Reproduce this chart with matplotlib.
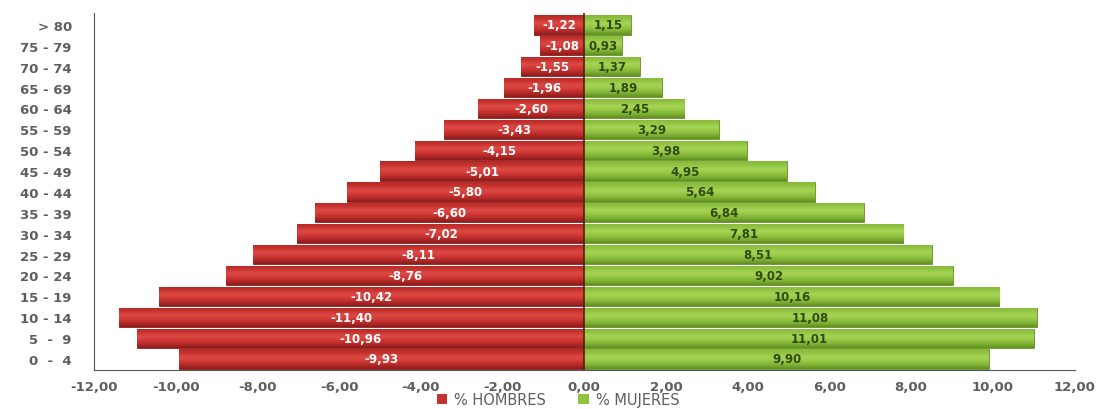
import matplotlib
matplotlib.use("Agg")
import matplotlib.pyplot as plt
from matplotlib.patches import Patch
from matplotlib.colors import LinearSegmentedColormap
import numpy as np

categories = ["> 80", "75 - 79", "70 - 74", "65 - 69", "60 - 64", "55 - 59", "50 - 54",
              "45 - 49", "40 - 44", "35 - 39", "30 - 34", "25 - 29", "20 - 24",
              "15 - 19", "10 - 14", "5  -  9", "0  -  4"]
hombres = [-1.22, -1.08, -1.55, -1.96, -2.60, -3.43, -4.15, -5.01, -5.80, -6.60,
           -7.02, -8.11, -8.76, -10.42, -11.40, -10.96, -9.93]
mujeres = [1.15, 0.93, 1.37, 1.89, 2.45, 3.29, 3.98, 4.95, 5.64, 6.84,
           7.81, 8.51, 9.02, 10.16, 11.08, 11.01, 9.90]
xticks = [-12, -10, -8, -6, -4, -2, 0, 2, 4, 6, 8, 10, 12]

def fmt(v):
    return f"{v:.2f}".replace(".", ",")

red = "#c8312f"
green = "#8fc23e"
grey = "#5e5e5e"

red_cmap = LinearSegmentedColormap.from_list(
    "r", ["#8a1c1a", "#b52a28", "#d13a37", "#dc4a46", "#c9332f", "#b02926"])
green_cmap = LinearSegmentedColormap.from_list(
    "g", ["#5f8f22", "#7fb235", "#96c845", "#a6d456", "#92c443", "#85b83a"])

fig = plt.figure(figsize=(11.01, 4.10), dpi=100)
ax = fig.add_axes([0.0854, 0.095, 0.8906, 0.871])

n = len(categories)
ypos = [n - 1 - i for i in range(n)]

bh = ax.barh(ypos, hombres, height=0.92, color=red, edgecolor="#8e1e1c", linewidth=0.6)
bm = ax.barh(ypos, mujeres, height=0.92, color=green, edgecolor="#638f25", linewidth=0.6)

grad = np.linspace(0, 1, 64).reshape(-1, 1)
for bars, cmap in ((bh, red_cmap), (bm, green_cmap)):
    for p in bars.patches:
        x0, y0 = p.get_x(), p.get_y()
        w, h = p.get_width(), p.get_height()
        im = ax.imshow(grad, cmap=cmap, aspect="auto", origin="lower",
                       extent=(x0, x0 + w, y0, y0 + h), zorder=p.get_zorder() + 0.1,
                       interpolation="bilinear")
        im.set_clip_path(p)

for y, v in zip(ypos, hombres):
    ax.text(v / 2, y, fmt(v), ha="center", va="center", color="white",
            fontsize=8.5, fontweight="bold", zorder=5)
for y, v in zip(ypos, mujeres):
    ax.text(v / 2, y, fmt(v), ha="center", va="center", color="#2f4a12",
            fontsize=8.5, fontweight="bold", zorder=5)

ax.axvline(0, color="#5a1a12", linewidth=1.2, zorder=4)

ax.set_xlim(-12, 12)
ax.set_ylim(-0.53, n - 1 + 0.575)
ax.set_xticks(xticks)
ax.set_xticklabels([fmt(float(x)) for x in xticks], fontsize=9.5, fontweight="bold", color=grey)
ax.set_yticks(ypos)
ax.set_yticklabels(categories, fontsize=9.5, fontweight="bold", color=grey)
ax.tick_params(axis="both", length=0)
ax.tick_params(axis="y", pad=16)
ax.tick_params(axis="x", pad=7)

for s in ["top", "right"]:
    ax.spines[s].set_visible(False)
ax.spines["left"].set_color("#555555")
ax.spines["bottom"].set_color("#555555")

handles = [Patch(facecolor=red, label="% HOMBRES"), Patch(facecolor=green, label="% MUJERES")]
leg = fig.legend(handles=handles, loc="center", bbox_to_anchor=(0.507, 0.022), ncol=2,
                 frameon=False, fontsize=10.5, handlelength=0.7, handleheight=0.7,
                 handletextpad=0.5, columnspacing=2.2, borderpad=0)
for t in leg.get_texts():
    t.set_color(grey)

fig.savefig("out.png", dpi=100)
